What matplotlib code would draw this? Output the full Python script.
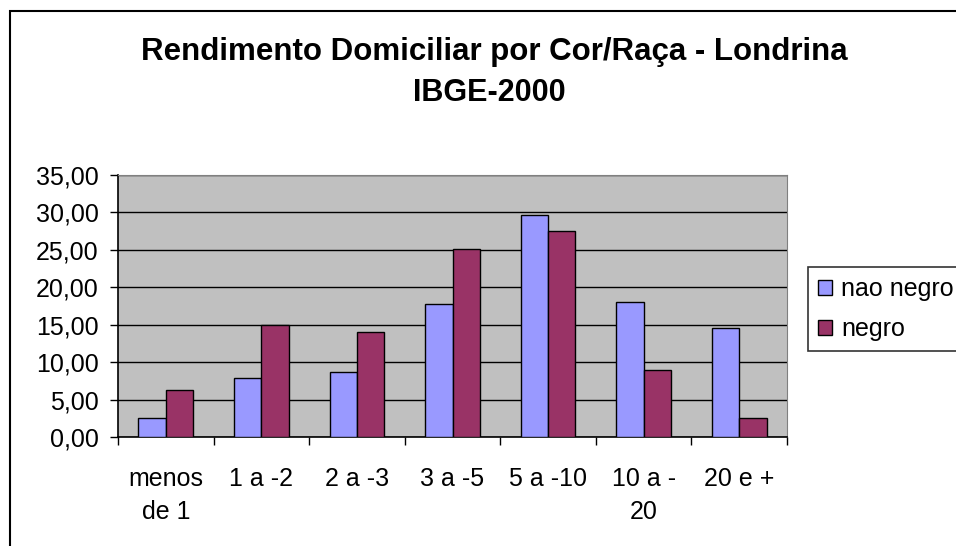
import matplotlib
matplotlib.use("Agg")
import matplotlib.pyplot as plt
from matplotlib.patches import Rectangle
import numpy as np

categorias = ["menos\nde 1", "1 a -2", "2 a -3", "3 a -5", "5 a -10", "10 a -\n20", "20 e +"]
nao_negro = [2.55, 7.9, 8.7, 17.8, 29.6, 18.1, 14.6]
negro = [6.3, 14.9, 14.05, 25.1, 27.5, 9.0, 2.55]
yticks = [0, 5, 10, 15, 20, 25, 30, 35]

plt.rcParams["font.family"] = ["Liberation Sans", "DejaVu Sans"]

fig = plt.figure(figsize=(9.56, 5.46), dpi=100)
ax = fig.add_axes([118/956, 1-437/546, 669/956, 262/546])

x = np.arange(len(categorias))
w = 1/3.5
ax.bar(x - w/2, nao_negro, w, color="#9999FF", edgecolor="black", linewidth=1, label="nao negro", zorder=3)
ax.bar(x + w/2, negro, w, color="#993366", edgecolor="black", linewidth=1, label="negro", zorder=3)

ax.set_facecolor("#C0C0C0")
ax.set_xlim(-0.5, len(categorias) - 0.5)
ax.set_ylim(0, 35)
ax.set_yticks(yticks)
ax.set_yticklabels([f"{v:.2f}".replace(".", ",") for v in yticks], fontsize=18)
ax.yaxis.grid(True, color="black", linewidth=1, zorder=1)
ax.set_axisbelow(True)

ax.set_xticks(x)
ax.set_xticklabels(categorias, fontsize=18, linespacing=1.5, va="top")
ax.set_xticks(np.arange(-0.5, len(categorias)), minor=True)
ax.tick_params(axis="x", which="major", length=0, pad=21.5)
ax.tick_params(axis="x", which="minor", length=6, width=1, direction="out", color="black")
ax.tick_params(axis="y", length=6, width=1, direction="out", pad=8)

for s in ["top", "right"]:
    ax.spines[s].set_color("#808080")
for s in ["left", "bottom"]:
    ax.spines[s].set_color("black")
    ax.spines[s].set_linewidth(1.2)

fig.text(494/956, 1-52/546, "Rendimento Domiciliar por Cor/Raça - Londrina", ha="center", va="center",
         fontsize=22.5, fontweight="bold")
fig.text(489/956, 1-93/546, "IBGE-2000", ha="center", va="center", fontsize=22, fontweight="bold")

leg = fig.legend(loc="upper left", bbox_to_anchor=(808/956, 1-267/546), bbox_transform=fig.transFigure,
                 fontsize=18, handlelength=0.56, handleheight=0.56, handletextpad=0.36, borderpad=0.4,
                 labelspacing=0.65, fancybox=False, borderaxespad=0)
leg.get_frame().set_edgecolor("black")
leg.get_frame().set_linewidth(1.2)

fig.patches.append(Rectangle((10/956, -0.1), 1.2, 1.1 - 11/546, transform=fig.transFigure,
                             fill=False, edgecolor="black", linewidth=1.5))

fig.savefig("out.png", dpi=100)
